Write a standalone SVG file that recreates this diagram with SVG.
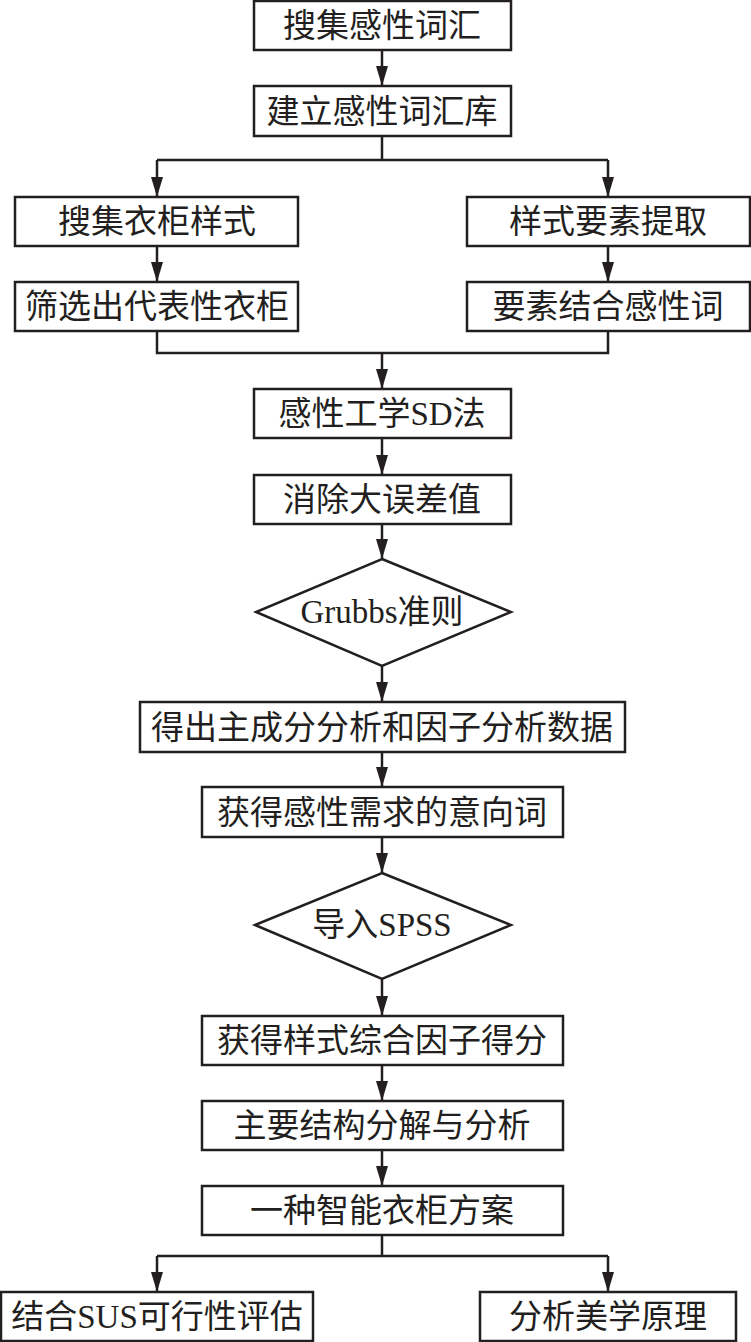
<svg xmlns="http://www.w3.org/2000/svg" width="751" height="1342" viewBox="0 0 751 1342">
<style>
.b{fill:#fff;stroke:#231f20;stroke-width:2.5}
.t{font-family:"Liberation Serif","Noto Sans CJK SC",serif;font-size:33px;fill:#231f20;text-anchor:middle}
.c{fill:none;stroke:#231f20;stroke-width:2.5}
</style>
<defs>
<marker id="ar" markerWidth="20" markerHeight="12" refX="20" refY="6" orient="auto" markerUnits="userSpaceOnUse" viewBox="0 0 20 12">
<path d="M0,0 L20,6 L0,12 Z" fill="#231f20"/>
</marker>
</defs>
<rect width="751" height="1342" fill="#fff"/>
<g id="connectors">
<path class="c" d="M382,50 V86" marker-end="url(#ar)"/>
<path class="c" d="M382,136 V160 M157,160 H608"/>
<path class="c" d="M157,160 V197" marker-end="url(#ar)"/>
<path class="c" d="M608,160 V197" marker-end="url(#ar)"/>
<path class="c" d="M157,246 V282" marker-end="url(#ar)"/>
<path class="c" d="M608,246 V282" marker-end="url(#ar)"/>
<path class="c" d="M157,331 V353 H608 V331"/>
<path class="c" d="M382,353 V389" marker-end="url(#ar)"/>
<path class="c" d="M382,438 V475" marker-end="url(#ar)"/>
<path class="c" d="M382,524 V559" marker-end="url(#ar)"/>
<path class="c" d="M382,666 V702" marker-end="url(#ar)"/>
<path class="c" d="M382,752 V787" marker-end="url(#ar)"/>
<path class="c" d="M382,837 V873" marker-end="url(#ar)"/>
<path class="c" d="M382,979 V1016" marker-end="url(#ar)"/>
<path class="c" d="M382,1065 V1101" marker-end="url(#ar)"/>
<path class="c" d="M382,1150 V1186" marker-end="url(#ar)"/>
<path class="c" d="M382,1235 V1256 M157,1256 H608"/>
<path class="c" d="M157,1256 V1292" marker-end="url(#ar)"/>
<path class="c" d="M608,1256 V1292" marker-end="url(#ar)"/>
</g>
<g id="n1"><rect class="b" x="254" y="1" width="257" height="49"/><text class="t" x="382" y="37">搜集感性词汇</text></g>
<g id="n2"><rect class="b" x="254" y="86" width="257" height="50"/><text class="t" x="382" y="123">建立感性词汇库</text></g>
<g id="n3"><rect class="b" x="15" y="197" width="283" height="49"/><text class="t" x="157" y="233">搜集衣柜样式</text></g>
<g id="n4"><rect class="b" x="467" y="197" width="283" height="49"/><text class="t" x="608" y="233">样式要素提取</text></g>
<g id="n5"><rect class="b" x="15" y="282" width="283" height="49"/><text class="t" x="157" y="318">筛选出代表性衣柜</text></g>
<g id="n6"><rect class="b" x="467" y="282" width="283" height="49"/><text class="t" x="608" y="318">要素结合感性词</text></g>
<g id="n7"><rect class="b" x="254" y="389" width="257" height="49"/><text class="t" x="382" y="425">感性工学SD法</text></g>
<g id="n8"><rect class="b" x="254" y="475" width="257" height="49"/><text class="t" x="382" y="511">消除大误差值</text></g>
<g id="n9"><polygon class="b" points="382,559 511,612 382,666 256,612"/><text class="t" x="382" y="623">Grubbs准则</text></g>
<g id="n10"><rect class="b" x="140" y="702" width="485" height="50"/><text class="t" x="382" y="739">得出主成分分析和因子分析数据</text></g>
<g id="n11"><rect class="b" x="202" y="787" width="361" height="50"/><text class="t" x="382" y="824">获得感性需求的意向词</text></g>
<g id="n12"><polygon class="b" points="382,873 511,925 382,979 255,925"/><text class="t" x="382" y="936">导入SPSS</text></g>
<g id="n13"><rect class="b" x="202" y="1016" width="361" height="49"/><text class="t" x="382" y="1052">获得样式综合因子得分</text></g>
<g id="n14"><rect class="b" x="202" y="1101" width="361" height="49"/><text class="t" x="382" y="1137">主要结构分解与分析</text></g>
<g id="n15"><rect class="b" x="202" y="1186" width="361" height="49"/><text class="t" x="382" y="1222">一种智能衣柜方案</text></g>
<g id="n16"><rect class="b" x="1" y="1292" width="312" height="49"/><text class="t" x="157" y="1328">结合SUS可行性评估</text></g>
<g id="n17"><rect class="b" x="480" y="1292" width="256" height="49"/><text class="t" x="608" y="1328">分析美学原理</text></g>
</svg>
